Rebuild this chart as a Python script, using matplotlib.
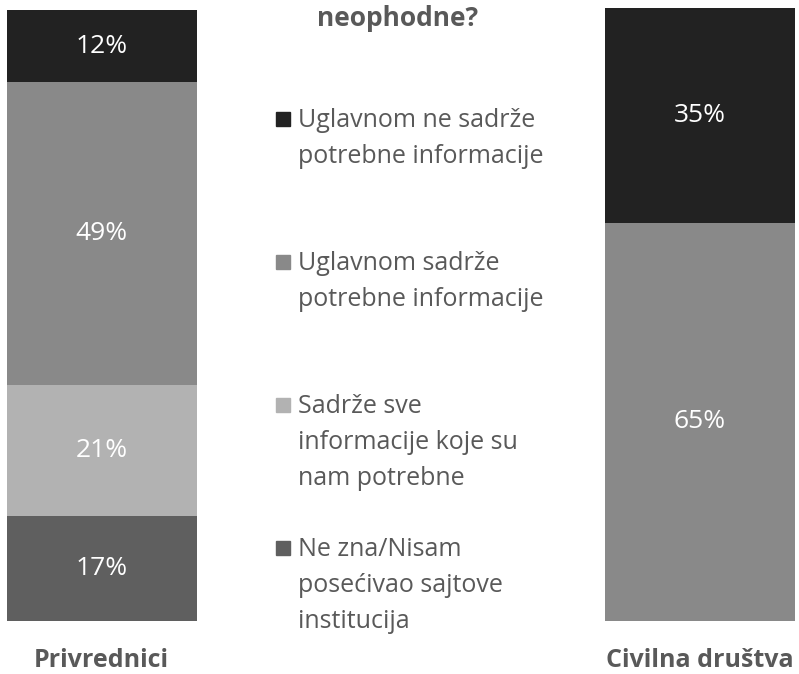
import matplotlib
matplotlib.use("Agg")
import matplotlib.pyplot as plt
from matplotlib.patches import Rectangle

plt.rcParams['font.family'] = ['Open Sans', 'DejaVu Sans']

categories = ["Privrednici", "Civilna društva"]
series_labels = [
    "Ne zna/Nisam\nposećivao sajtove\ninstitucija",
    "Sadrže sve\ninformacije koje su\nnam potrebne",
    "Uglavnom sadrže\npotrebne informacije",
    "Uglavnom ne sadrže\npotrebne informacije",
]
# values stacked bottom -> top (percent)
values_privrednici = [17.1, 21.4, 49.4, 11.7]
values_civilna = [0, 0, 65, 35]
colors = ["#5f5f5f", "#b2b2b2", "#898989", "#222222"]
title = "neophodne?"

W, H = 799, 674
fig = plt.figure(figsize=(W / 100, H / 100), dpi=100)
bar_top_px, bar_bot_px = 8, 621
ax = fig.add_axes([0, (H - bar_bot_px) / H, 1, (bar_bot_px - bar_top_px) / H])
ax.set_ylim(0, 100)
unit = 598.5
ax.set_xlim(-101.5 / unit, 1 + 99 / unit)
ax.axis("off")

data = [values_privrednici, values_civilna]
xs = [0, 1]
width = 190 / unit
for ci, vals in enumerate(data):
    bottom = 0
    for si, v in enumerate(vals):
        if v > 0:
            ax.bar(xs[ci], v, width=width, bottom=bottom, color=colors[si], edgecolor="none")
            ax.text(xs[ci], bottom + v / 2, f"{v:.0f}%", ha="center", va="center",
                    color="white", fontsize=19)
        bottom += v

# category labels
for ci, cat in enumerate(categories):
    ax.text(xs[ci], -6.4, cat, ha="center", va="center", fontsize=18,
            fontweight="bold", color="#595959")

# title (partially cut)
fig.text(398 / W, 1 - 26 / H, title, ha="center", va="baseline", fontsize=19,
         fontweight="bold", color="#595959")

# legend (top -> bottom order)
legend_order = [3, 2, 1, 0]
first_baselines = [127, 270, 413, 556]
line_step = 36
for k, si in enumerate(legend_order):
    b0 = first_baselines[k]
    fig.patches.append(Rectangle((276 / W, 1 - (b0 - 1) / H), 14 / W, 14 / H,
                                 transform=fig.transFigure, color=colors[si]))
    for li, line in enumerate(series_labels[si].split("\n")):
        fig.text(298 / W, 1 - (b0 + li * line_step) / H, line, ha="left",
                 va="baseline", fontsize=18, color="#595959")

fig.savefig("out.png", dpi=100)
